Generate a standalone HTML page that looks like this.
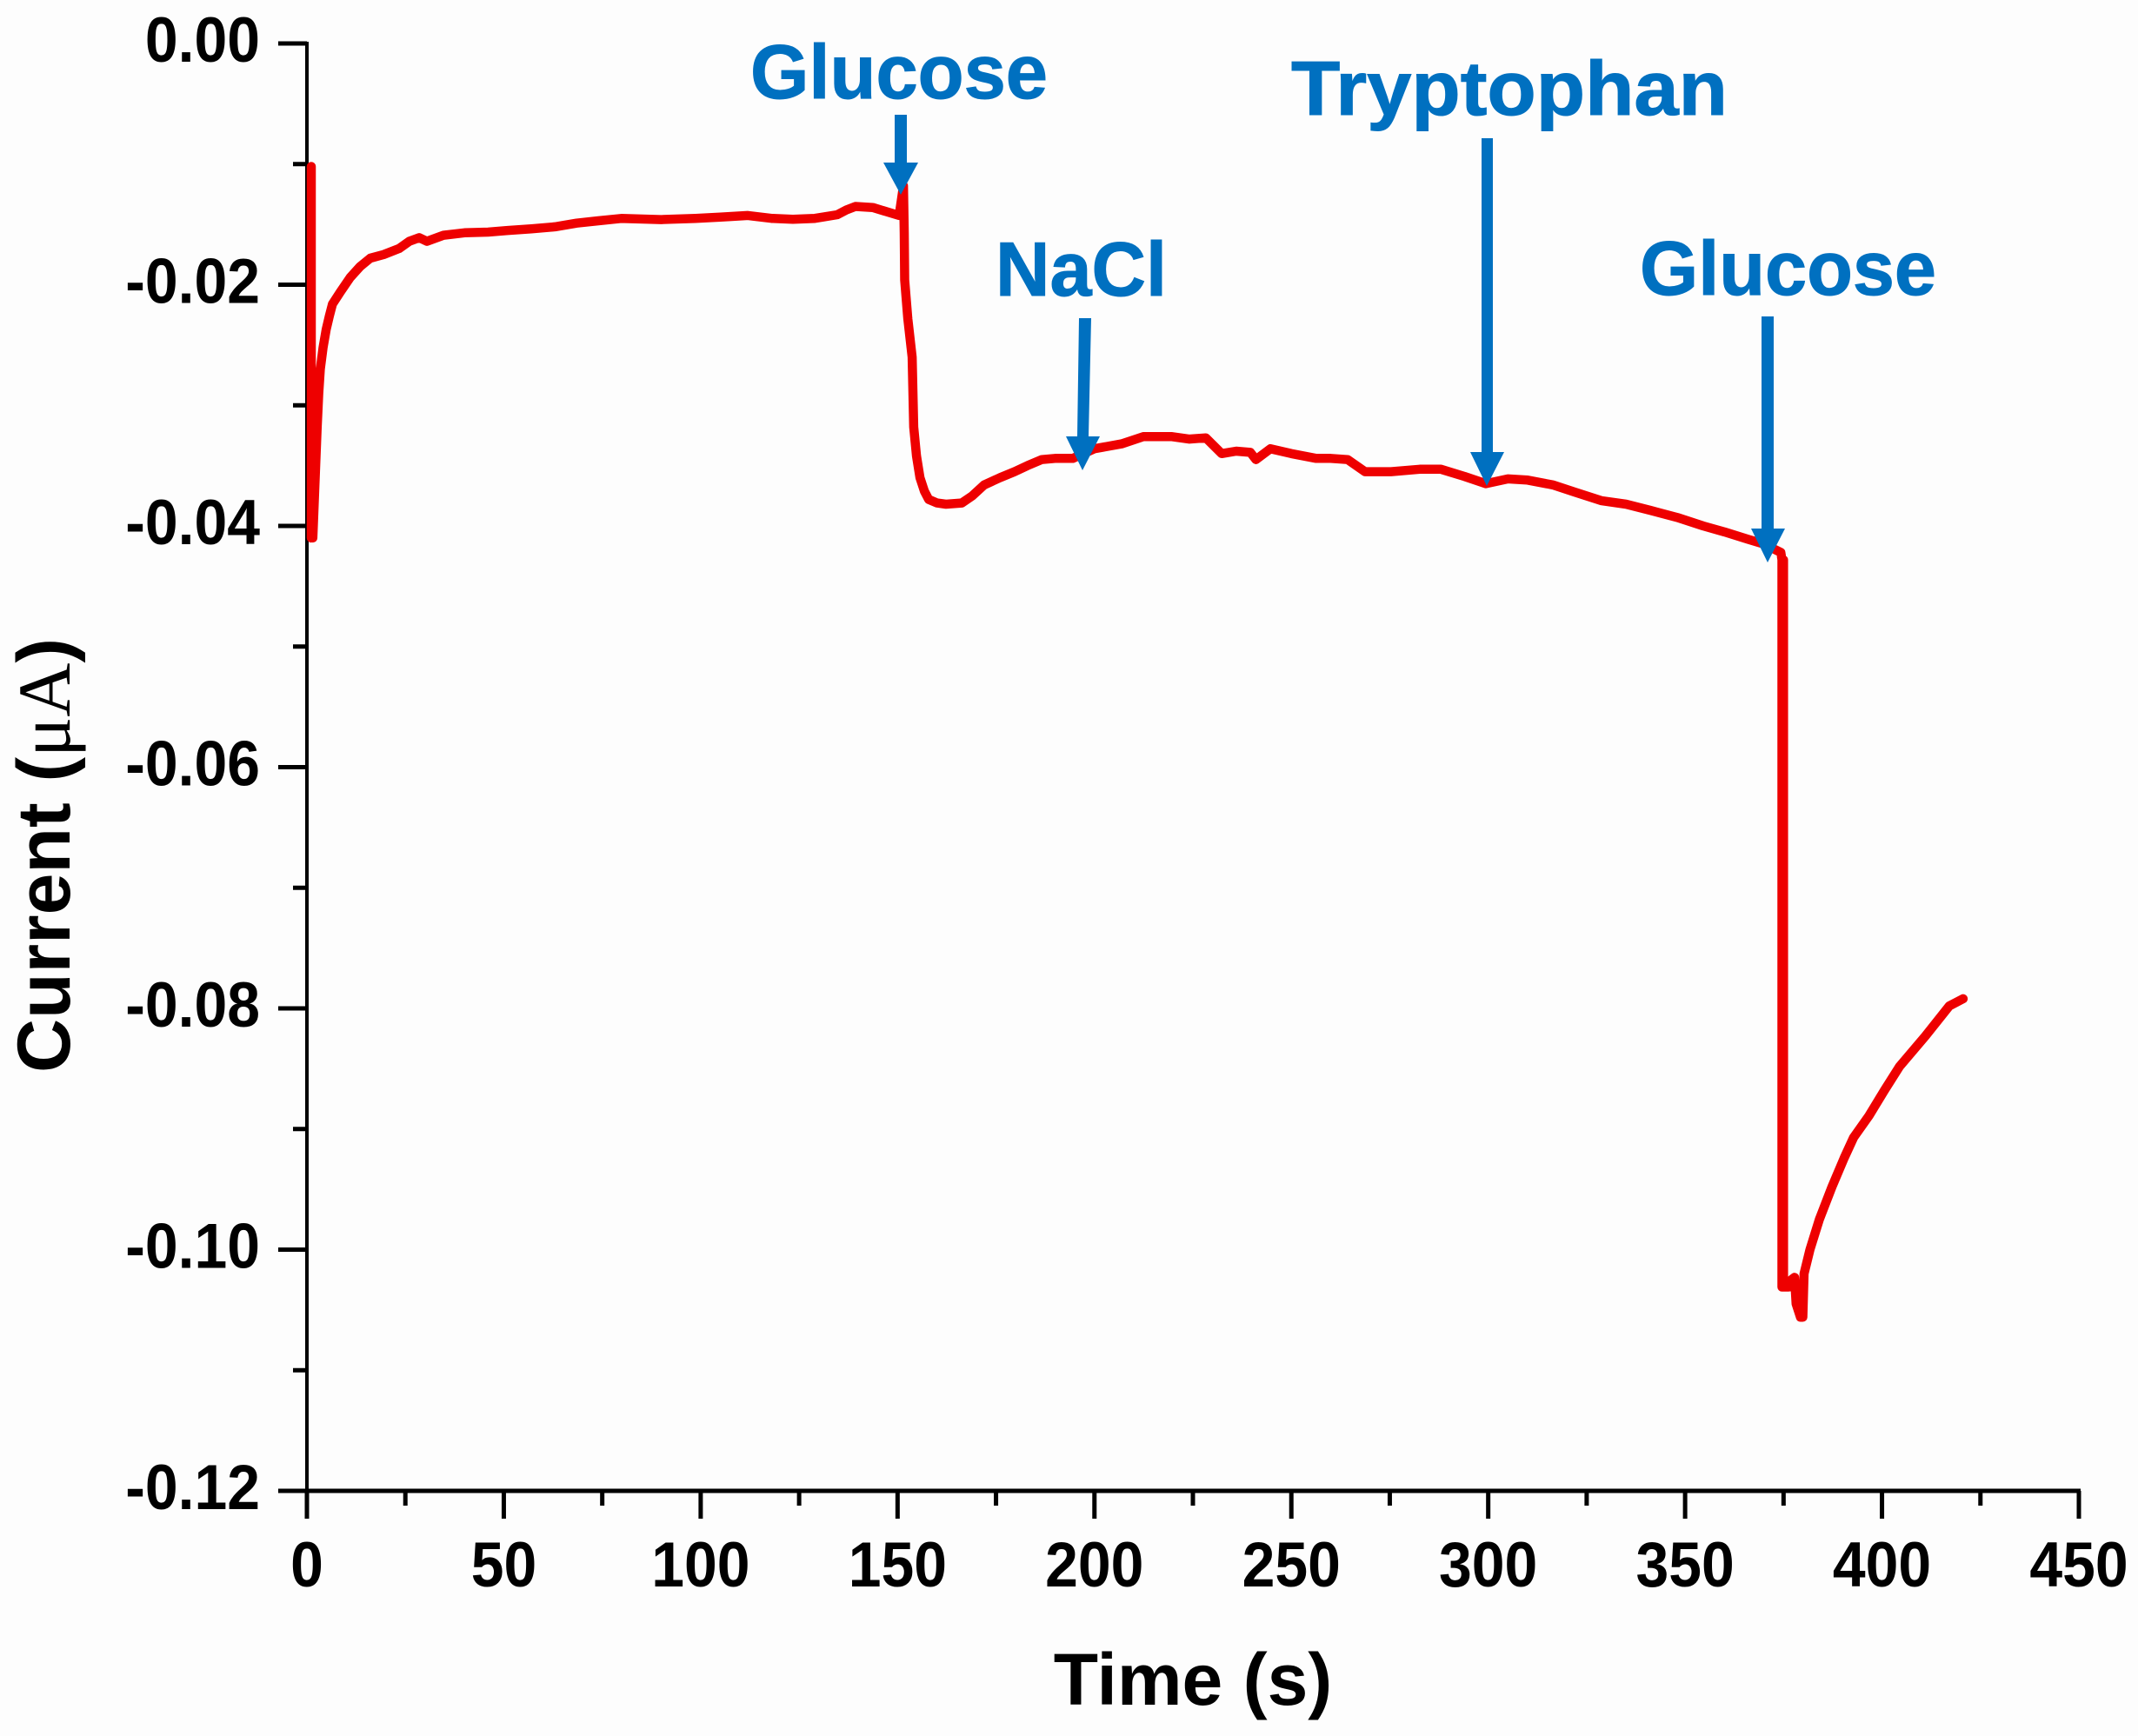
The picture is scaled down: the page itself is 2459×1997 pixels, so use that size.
<!DOCTYPE html>
<html lang="en">
<head>
<meta charset="utf-8">
<title>Current vs Time</title>
<style>
html,body{margin:0;padding:0;background:#fdfdfd;}
svg{display:block;}
text{font-family:"Liberation Sans",sans-serif;font-weight:bold;}
</style>
</head>
<body>
<svg id="chart" xmlns="http://www.w3.org/2000/svg" width="2459" height="1997" viewBox="0 0 2459 1997">
  <rect x="0" y="0" width="2459" height="1997" fill="#fdfdfd"/>
  <g id="axes"></g>
  <g id="series"></g>
  <text x="1372" y="1961" font-size="84" text-anchor="middle" fill="#000">Time (s)</text>
  <text transform="translate(80,984) rotate(-90)" font-size="86" text-anchor="middle" fill="#000">Current (<tspan style="font-family:'Liberation Serif',serif;font-weight:normal">μA</tspan>)</text>

  <g fill="#0070c0">
    <text x="863" y="113" font-size="88" textLength="342" lengthAdjust="spacingAndGlyphs" stroke="#0070c0" stroke-width="1">Glucose</text>
    <text x="1145" y="340" font-size="88" textLength="197" lengthAdjust="spacingAndGlyphs" stroke="#0070c0" stroke-width="1">NaCl</text>
    <text x="1485" y="132" font-size="88" textLength="502" lengthAdjust="spacingAndGlyphs" stroke="#0070c0" stroke-width="1">Tryptophan</text>
    <text x="1886" y="339" font-size="88" textLength="341" lengthAdjust="spacingAndGlyphs" stroke="#0070c0" stroke-width="1">Glucose</text>
    <polygon points="1029,132 1043,132 1043,187 1056,187 1036,224 1016,187 1029,187"/>
    <polygon points="1241,366 1255,366 1252,502 1265,502 1245,541 1226,502 1239,502"/>
    <polygon points="1704,159 1717,159 1717,520 1730,520 1710,559 1691,520 1704,520"/>
    <polygon points="2026,364 2040,364 2040,608 2053,608 2033,647 2014,608 2026,608"/>
  </g>
</svg>
<script>
// Chart values
const xTicks = [0, 50, 100, 150, 200, 250, 300, 350, 400, 450];
const xMinorTicks = [25, 75, 125, 175, 225, 275, 325, 375, 425];
const yTicks = [0, -0.02, -0.04, -0.06, -0.08, -0.10, -0.12];
const yMinorTicks = [-0.01, -0.03, -0.05, -0.07, -0.09, -0.11];
const yTickLabels = ["0.00", "-0.02", "-0.04", "-0.06", "-0.08", "-0.10", "-0.12"];
const timeSeconds = [
  1.1, 1.1, 1.4, 1.5, 2.6, 3.0, 3.4, 4.1, 4.9, 5.7,
  6.5, 8.5, 11, 13.5, 16.1, 19.5, 23.4, 26, 28.5, 30.5,
  34.7, 40, 46, 51, 57, 63, 68.5, 74, 79.8, 90,
  98.7, 105, 112, 118, 123.4, 129, 134.7, 137, 139.3, 143.7,
  150.4, 151.5, 151.7, 151.8, 152.6, 153.7, 154.1, 154.8, 155.7, 156.8,
  157.9, 160, 162.3, 166.3, 169, 172, 176, 179.7, 183, 186.6,
  190, 194.5, 200, 206.9, 212.4, 219.7, 224, 228.3, 232.3, 236,
  239.6, 241, 244.7, 250, 256.3, 260, 264.3, 268.7, 275.3, 282.6,
  288, 294, 299.4, 305, 310, 316.4, 322, 328.7, 335, 341.1,
  348, 354.6, 360, 365.9, 370, 374.3, 374.6, 374.6, 375, 375,
  375, 376.2, 377, 377.8, 378.2, 379.3, 379.9, 380.2, 381.7, 384.1,
  387.3, 390.4, 392.8, 396.7, 400.6, 404.5, 411, 417.1, 420.6
];
const currentMicroamps = [
  -0.0102, -0.041, -0.038, -0.041, -0.0318, -0.029, -0.027, -0.0252, -0.0237, -0.0226,
  -0.0216, -0.0206, -0.0194, -0.0185, -0.0178, -0.0175, -0.017, -0.0164, -0.0161, -0.0164,
  -0.0159, -0.0157, -0.01564, -0.0155, -0.01537, -0.0152, -0.0149, -0.0147, -0.01451, -0.0146,
  -0.0145, -0.0144, -0.01426, -0.0145, -0.01457, -0.0145, -0.0142, -0.0138, -0.01351, -0.0136,
  -0.01426, -0.0118, -0.0157, -0.0196, -0.0228, -0.026, -0.0318, -0.0342, -0.036, -0.0371,
  -0.0378, -0.0381, -0.0382, -0.0381, -0.0375, -0.0366, -0.036, -0.0355, -0.035, -0.0345,
  -0.0344, -0.0344, -0.0336, -0.0332, -0.0326, -0.0326, -0.0328, -0.0327, -0.034, -0.0338,
  -0.0339, -0.0345, -0.0336, -0.034, -0.0344, -0.0344, -0.0345, -0.0355, -0.0355, -0.0353,
  -0.0353, -0.0359, -0.0365, -0.0361, -0.0362, -0.0366, -0.0372, -0.0379, -0.0382, -0.0387,
  -0.0393, -0.04, -0.0405, -0.0411, -0.0415, -0.0422, -0.0428, -0.1031, -0.1031, -0.0428,
  -0.1031, -0.1031, -0.1025, -0.1023, -0.1045, -0.1056, -0.1056, -0.102, -0.1, -0.0975,
  -0.0948, -0.0924, -0.0907, -0.0889, -0.0868, -0.0848, -0.0823, -0.0798, -0.0792
];

// Axis functions
function xScale(t) { return 353 + t * (2038 / 450); }
function yScale(v) { return 50 + (-v) * 13875; }

const NS = 'http://www.w3.org/2000/svg';
const axes = document.getElementById('axes');
const series = document.getElementById('series');

function line(x1, y1, x2, y2, w) {
  const el = document.createElementNS(NS, 'line');
  el.setAttribute('x1', x1);
  el.setAttribute('y1', y1);
  el.setAttribute('x2', x2);
  el.setAttribute('y2', y2);
  el.setAttribute('stroke', '#000');
  el.setAttribute('stroke-width', w);
  return el;
}
function label(x, y, anchor, str) {
  const el = document.createElementNS(NS, 'text');
  el.setAttribute('transform', 'translate(' + x + ',' + y + ') scale(0.93,1)');
  el.setAttribute('text-anchor', anchor);
  el.setAttribute('font-size', 73);
  el.setAttribute('fill', '#000');
  el.textContent = str;
  return el;
}

const xAxisLine = line(320, yScale(-0.12), xScale(450) + 2, yScale(-0.12), 5);


axes.appendChild(xAxisLine);

const yAxisLine = line(xScale(0), yScale(0) - 2, xScale(0), yScale(-0.12) + 32, 4);


axes.appendChild(yAxisLine);

xTicks.forEach(function (t) {
  const tick = line(xScale(t), yScale(-0.12), xScale(t), yScale(-0.12) + 32, 5);
  
  
  axes.appendChild(tick);
  const txt = label(xScale(t), yScale(-0.12) + 110, 'middle', String(t));
  
  
  axes.appendChild(txt);
});
xMinorTicks.forEach(function (t) {
  const tick = line(xScale(t), yScale(-0.12), xScale(t), yScale(-0.12) + 17, 5);
  
  
  axes.appendChild(tick);
});
yTicks.forEach(function (v, i) {
  const tick = line(320, yScale(v), xScale(0), yScale(v), 5);
  
  
  axes.appendChild(tick);
  const txt = label(299, yScale(v) + 21, 'end', yTickLabels[i]);
  
  
  axes.appendChild(txt);
});
yMinorTicks.forEach(function (v) {
  const tick = line(337, yScale(v), xScale(0), yScale(v), 5);
  
  
  axes.appendChild(tick);
});

const trace = document.createElementNS(NS, 'polyline');


trace.setAttribute('points', timeSeconds.map(function (t, i) {
  return xScale(t).toFixed(1) + ',' + yScale(currentMicroamps[i]).toFixed(1);
}).join(' '));
trace.setAttribute('fill', 'none');
trace.setAttribute('stroke', '#ee0000');
trace.setAttribute('stroke-width', 10.5);
trace.setAttribute('stroke-linejoin', 'round');
trace.setAttribute('stroke-linecap', 'round');
series.appendChild(trace);
</script>
</body>
</html>
